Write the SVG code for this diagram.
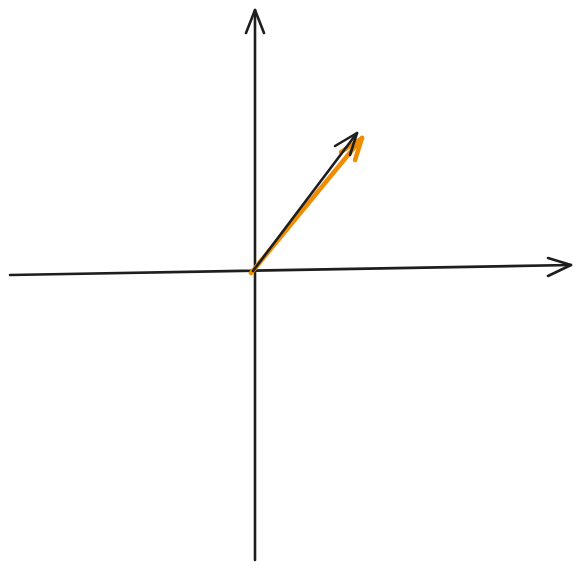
<svg xmlns="http://www.w3.org/2000/svg" width="580" height="570" viewBox="0 0 580 570">
<style>
.k{fill:none;stroke:#1e1e1e;stroke-width:2.6;stroke-linecap:round;stroke-linejoin:round}
.o{fill:none;stroke:#f08c00;stroke-width:4.5;stroke-linecap:round;stroke-linejoin:round}
</style>
<rect width="580" height="570" fill="#ffffff"/>
<g id="connectors">
<g id="y-axis">
<path class="k" d="M255,560 L255,10"/>
<path class="k" d="M246,33 L255,10 L264,33"/>
</g>
<g id="x-axis">
<path class="k" d="M10,275 L571,265"/>
<path class="k" d="M548,258 L571,265 L548,276"/>
</g>
<g id="vector-orange">
<path class="o" d="M251,273 L362,138"/>
<path class="o" d="M341,152 L362,138 L355,160"/>
</g>
<g id="vector-black">
<path class="k" d="M253,271 L357,133"/>
<path class="k" d="M335,146 L357,133 L350,155"/>
</g>
</g>
</svg>
